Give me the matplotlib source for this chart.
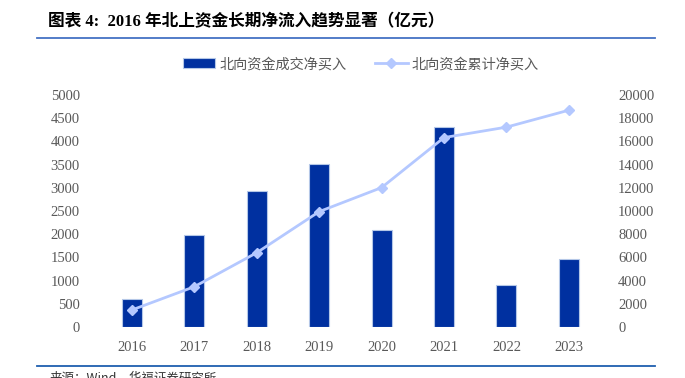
import numpy as np
import matplotlib.pyplot as plt

years = ['2016', '2017', '2018', '2019', '2020', '2021', '2022', '2023']
net_buy = [600, 1990, 2930, 3510, 2085, 4310, 900, 1466]
cum_buy = [1466, 3470, 6400, 9940, 12010, 16320, 17220, 18680]
left_ticks = [0, 500, 1000, 1500, 2000, 2500, 3000, 3500, 4000, 4500, 5000]
right_ticks = [0, 2000, 4000, 6000, 8000, 10000, 12000, 14000, 16000, 18000, 20000]

serif = ['Liberation Serif', 'Noto Sans CJK SC']
cjk = ['Noto Sans CJK SC', 'DejaVu Sans']
gray = '#595959'

fig = plt.figure(figsize=(6.85, 3.78), dpi=100)
ax = fig.add_axes([0.147, 0.135, 0.729, 0.614])
ax2 = ax.twinx()

x = np.arange(len(years))
ax.bar(x, net_buy, width=0.32, color='#0030A0', edgecolor='#B4C7E7', linewidth=0.8,
       label='北向资金成交净买入', zorder=2)
ax2.plot(x, cum_buy, color='#B4C8FF', lw=2, marker='D', markersize=5,
         label='北向资金累计净买入', zorder=3)

ax.set_xlim(-0.5, len(years) - 0.5)
ax.set_ylim(0, 5000)
ax2.set_ylim(0, 20000)
ax.set_yticks(left_ticks)
ax2.set_yticks(right_ticks)
ax.set_xticks(x)
ax.set_xticklabels(years)

for a in (ax, ax2):
    for s in a.spines.values():
        s.set_visible(False)
    a.tick_params(length=0, colors=gray, labelsize=10.5)
    for lab in a.get_xticklabels() + a.get_yticklabels():
        lab.set_family(serif)
ax.tick_params(axis='y', pad=15)
ax.tick_params(axis='x', pad=10)
ax2.tick_params(axis='y', pad=13)
ax2.set_zorder(ax.get_zorder() + 1)
ax2.patch.set_visible(False)

h1, l1 = ax.get_legend_handles_labels()
h2, l2 = ax2.get_legend_handles_labels()
fig.legend(h1 + h2, l1 + l2, loc='center', bbox_to_anchor=(0.527, 0.83), ncol=2,
           frameon=False, prop={'family': cjk, 'size': 10.2}, labelcolor=gray,
           handlelength=2.3, columnspacing=2.0, handletextpad=0.3)

fig.text(0.07, 0.942, '图表 4:  2016 年北上资金长期净流入趋势显著（亿元）', family=serif,
         fontsize=12, fontweight='bold', va='center', ha='left')
fig.add_artist(plt.Line2D([0.054, 0.956], [0.899, 0.899], color='#4472C4', lw=1.3))
fig.add_artist(plt.Line2D([0.054, 0.956], [0.032, 0.032], color='#1F5FAF', lw=1.3))
fig.text(0.073, 0.0, '来源：Wind，华福证券研究所', family=cjk, fontsize=9, va='center',
         ha='left', color='#333333')

fig.savefig('out.png', dpi=100)
